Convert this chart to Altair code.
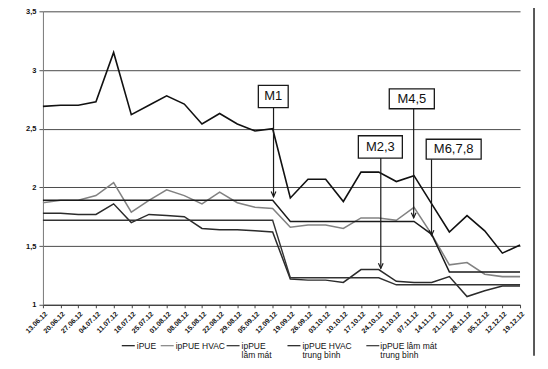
import altair as alt
import pandas as pd

# ---------------- data ----------------
dates = ["13.06.12", "20.06.12", "27.06.12", "04.07.12", "11.07.12", "18.07.12", "25.07.12",
         "01.08.12", "08.08.12", "15.08.12", "22.08.12", "29.08.12", "05.09.12", "12.09.12",
         "19.09.12", "26.09.12", "03.10.12", "10.10.12", "17.10.12", "24.10.12", "31.10.12",
         "07.11.12", "14.11.12", "21.11.12", "28.11.12", "05.12.12", "12.12.12", "19.12.12"]

ipue = [2.69, 2.70, 2.70, 2.73, 3.15, 2.62, 2.70, 2.78, 2.71, 2.54, 2.63, 2.54, 2.48, 2.50,
        1.91, 2.07, 2.07, 1.88, 2.13, 2.13, 2.05, 2.10, 1.86, 1.62, 1.76, 1.63, 1.44, 1.51]
hvac = [1.87, 1.89, 1.89, 1.93, 2.04, 1.79, 1.89, 1.98, 1.93, 1.86, 1.96, 1.87, 1.83, 1.82,
        1.66, 1.68, 1.68, 1.65, 1.74, 1.74, 1.72, 1.83, 1.60, 1.34, 1.36, 1.26, 1.24, 1.24]
lammat = [1.78, 1.78, 1.77, 1.77, 1.86, 1.70, 1.77, 1.76, 1.75, 1.65, 1.64, 1.64, 1.63, 1.62,
          1.22, 1.21, 1.21, 1.19, 1.30, 1.30, 1.20, 1.19, 1.19, 1.24, 1.07, 1.12, 1.16, 1.16]
hvac_avg = [1.89, 1.89, 1.89, 1.89, 1.89, 1.89, 1.89, 1.89, 1.89, 1.89, 1.89, 1.89, 1.89, 1.89,
            1.71, 1.71, 1.71, 1.71, 1.71, 1.71, 1.71, 1.71, 1.60, 1.28, 1.28, 1.28, 1.28, 1.28]
lammat_avg = [1.72, 1.72, 1.72, 1.72, 1.72, 1.72, 1.72, 1.72, 1.72, 1.72, 1.72, 1.72, 1.72, 1.72,
              1.23, 1.23, 1.23, 1.23, 1.23, 1.23, 1.17, 1.17, 1.17, 1.17, 1.17, 1.17, 1.17, 1.17]

series_names = ["iPUE", "ipPUE HVAC", "ipPUE lâm mát",
                "ipPUE HVAC trung bình", "ipPUE lâm mát trung bình"]
legend_labels = ["iPUE", "ipPUE HVAC", "ipPUE\nlâm mát",
                 "ipPUE HVAC\ntrung bình", "ipPUE lâm mát\ntrung bình"]

# annotations (markers of measures)
ann_labels = ["M1", "M2,3", "M4,5", "M6,7,8"]
ann_x = [13.05, 19.12, 20.98, 21.99]      # arrow position (week index)
ann_tip = [1.92, 1.31, 1.74, 1.59]         # arrow tip value
ann_box_x1 = [12.19, 17.85, 19.60, 21.69]
ann_box_x2 = [13.88, 20.34, 22.15, 24.80]
ann_box_y1 = [2.68, 2.25, 2.67, 2.24]
ann_box_y2 = [2.87, 2.44, 2.84, 2.41]

# ---------------- styles / layout ----------------
series_colors = ["#111111", "#828282", "#2b2b2b", "#1a1a1a", "#333333"]
series_widths = [1.6, 1.4, 1.3, 1.4, 1.3]
legend_sym_x = [79, 118, 184, 245, 324]
legend_txt_x = [94, 133, 199, 260, 338]
legend_y = 335
FONT = "Liberation Sans"

rows = []
for name, vals in zip(series_names, [ipue, hvac, lammat, hvac_avg, lammat_avg]):
    for i, v in enumerate(vals):
        rows.append({"idx": i, "value": v, "series": name})
df = pd.DataFrame(rows)

ann = pd.DataFrame({"label": ann_labels, "ax": ann_x, "tip": ann_tip,
                    "bx1": ann_box_x1, "bx2": ann_box_x2,
                    "by1": ann_box_y1, "by2": ann_box_y2})
ann["bx"] = (ann["bx1"] + ann["bx2"]) / 2
ann["by"] = (ann["by1"] + ann["by2"]) / 2

leg = pd.DataFrame({"series": series_names, "label": legend_labels,
                    "sx": legend_sym_x, "tx": legend_txt_x})
leg["sx2"] = leg["sx"] + 13
leg["sy"] = legend_y
leg["ty"] = legend_y - 3.7

label_expr = "[" + ",".join("'%s'" % d for d in dates) + "][datum.value]"

xscale = alt.Scale(domain=[0, 27], nice=False, zero=False)
yscale = alt.Scale(domain=[1, 3.5], nice=False, zero=False)

x_axis = alt.Axis(values=list(range(28)), labelExpr=label_expr, labelAngle=-45,
                  labelFont=FONT, labelFontSize=7, labelFontWeight="bold",
                  labelColor="#111", tickSize=3, tickColor="#444",
                  domainColor="#333", labelPadding=2, grid=False,
                  labelOverlap=False, labelFlush=False, labelBound=False)
y_axis = alt.Axis(values=[1, 1.5, 2, 2.5, 3, 3.5],
                  labelExpr="replace(format(datum.value, '.1~f'), '.', ',')",
                  labelFont=FONT, labelFontSize=7.5, labelFontWeight="bold",
                  labelColor="#111", tickSize=4, tickColor="#555",
                  domainColor="#777", labelPadding=3, labelOverlap=False,
                  grid=True, gridColor="#4a4a4a", gridWidth=1)

color_scale = alt.Scale(domain=series_names, range=series_colors)
width_scale = alt.Scale(domain=series_names, range=series_widths)


def X(field):
    return alt.X(field, type="quantitative", scale=xscale, title=None, axis=x_axis)


def Y(field):
    return alt.Y(field, type="quantitative", scale=yscale, title=None, axis=y_axis)


lines = alt.Chart(df).mark_line().encode(
    x=X("idx"), y=Y("value"),
    color=alt.Color("series:N", scale=color_scale, legend=None),
    strokeWidth=alt.StrokeWidth("series:N", scale=width_scale, legend=None),
)

arrows = alt.Chart(ann).mark_rule(color="#1a1a1a", strokeWidth=1.2).encode(
    x=X("ax"), y=Y("by1"), y2="tip:Q")

heads = alt.Chart(ann).mark_point(
    shape="M-0.5,-1.1L0,0L0.5,-1.1", size=90, filled=False,
    color="#1a1a1a", strokeWidth=1.2, opacity=1).encode(
    x=X("ax"), y=Y("tip"))

boxes = alt.Chart(ann).mark_rect(fill="white", stroke="#1a1a1a", strokeWidth=1.3).encode(
    x=X("bx1"), x2="bx2:Q", y=Y("by1"), y2="by2:Q")

box_text = alt.Chart(ann).mark_text(font=FONT, fontSize=13, color="#111").encode(
    x=X("bx"), y=Y("by"), text="label:N")

leg_sym = alt.Chart(leg).mark_rule(strokeWidth=1.2).encode(
    x=alt.X("sx:Q", scale=None), x2="sx2:Q",
    y=alt.Y("sy:Q", scale=None),
    color=alt.Color("series:N", scale=color_scale, legend=None))

leg_txt = alt.Chart(leg).mark_text(font=FONT, fontSize=8.5, align="left", baseline="top",
                                   lineBreak="\n", lineHeight=9, color="#111").encode(
    x=alt.X("tx:Q", scale=None), y=alt.Y("ty:Q", scale=None),
    text="label:N")

frame = alt.Chart(pd.DataFrame({"k": [0]})).mark_rule(color="#222", strokeWidth=1.5).encode(
    x=alt.value(492), y=alt.value(-8), y2=alt.value(345))

chart = alt.layer(lines, arrows, heads, boxes, box_text, leg_sym, leg_txt, frame).properties(
    width=478, height=294,
    padding={"left": 35, "top": 3, "right": 20, "bottom": 58},
    autosize=alt.AutoSizeParams(type="none"),
    background="white",
).configure_view(stroke=None)

chart.save("out.html", embed_options={"renderer": "svg", "actions": False})
